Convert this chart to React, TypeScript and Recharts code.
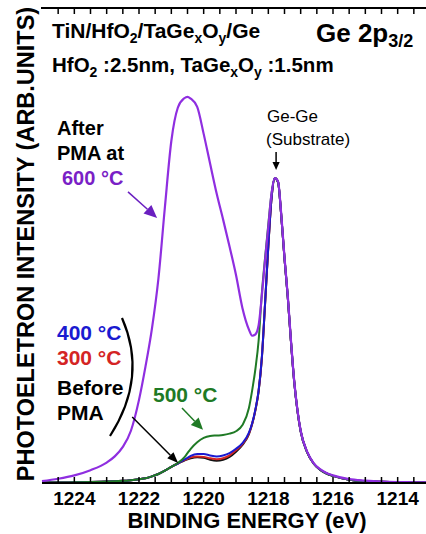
import React from "react";
import { LineChart, Line, XAxis, YAxis, ReferenceLine } from "recharts";

const FONT = '"Liberation Sans", Arial, Helvetica, sans-serif';

// binding energy grid (eV)
const energies = [
  1225.0, 1224.5, 1224.0, 1223.5, 1223.0, 1222.75, 1222.5, 1222.25, 1222.0, 1221.8,
  1221.6, 1221.4, 1221.2, 1221.0, 1220.8, 1220.6, 1220.5, 1220.4, 1220.2, 1220.0,
  1219.8, 1219.6, 1219.4, 1219.2, 1219.0, 1218.8, 1218.6, 1218.5, 1218.4, 1218.3,
  1218.2, 1218.1, 1218.0, 1217.9, 1217.8, 1217.7, 1217.6, 1217.5, 1217.4, 1217.3,
  1217.2, 1217.1, 1217.0, 1216.8, 1216.6, 1216.4, 1216.2, 1216.0, 1215.5, 1215.0,
  1214.5, 1214.0, 1213.5, 1213.0,
];

const beforePMA = [
  0.1, 0.1, 0.15, 0.2, 0.3, 0.35, 0.45, 0.6, 0.8, 1.0,
  1.4, 1.9, 2.6, 3.4, 4.1, 4.7, 5.0, 5.2, 5.4, 5.3,
  4.9, 4.7, 4.9, 5.5, 6.6, 8.0, 10.3, 12.4, 15.3, 19.3,
  26.3, 37.8, 49.8, 60.0, 64.1, 63.3, 56.2, 47.2, 39.2, 29.7,
  21.3, 15.2, 10.9, 6.5, 4.1, 2.8, 2.0, 1.5, 0.7, 0.4,
  0.25, 0.15, 0.1, 0.1,
];

const anneal300 = [
  0.1, 0.1, 0.15, 0.2, 0.3, 0.35, 0.45, 0.6, 0.8, 1.0,
  1.4, 1.9, 2.6, 3.4, 4.1, 4.8, 5.1, 5.4, 5.6, 5.5,
  5.2, 5.0, 5.2, 5.8, 6.9, 8.2, 10.4, 12.5, 15.4, 19.4,
  26.4, 37.9, 49.9, 60.0, 64.2, 63.4, 56.3, 47.3, 39.3, 29.8,
  21.4, 15.3, 10.9, 6.5, 4.1, 2.8, 2.0, 1.5, 0.7, 0.4,
  0.25, 0.15, 0.1, 0.1,
];

const anneal400 = [
  0.1, 0.1, 0.15, 0.2, 0.3, 0.35, 0.45, 0.6, 0.8, 1.0,
  1.4, 1.9, 2.6, 3.4, 4.1, 4.9, 5.3, 5.7, 6.1, 6.1,
  5.8, 5.6, 5.8, 6.3, 7.2, 8.4, 10.6, 12.6, 15.5, 19.5,
  26.5, 38.0, 50.0, 60.0, 64.2, 63.4, 56.3, 47.3, 39.3, 29.8,
  21.4, 15.3, 10.9, 6.5, 4.1, 2.8, 2.0, 1.5, 0.7, 0.4,
  0.25, 0.15, 0.1, 0.1,
];

const anneal500 = [
  0.1, 0.1, 0.15, 0.2, 0.3, 0.35, 0.45, 0.6, 0.8, 1.0,
  1.4, 1.9, 2.6, 3.4, 4.2, 5.4, 6.3, 7.2, 8.6, 9.5,
  9.9, 10.0, 10.1, 10.4, 10.9, 12.2, 15.8, 19.5, 24.0, 30.0,
  40.0, 47.5, 54.5, 61.0, 64.2, 63.4, 56.3, 47.3, 39.3, 29.8,
  21.4, 15.3, 10.9, 6.5, 4.1, 2.8, 2.0, 1.5, 0.7, 0.4,
  0.25, 0.15, 0.1, 0.1,
];

const anneal600 = [
  0.4, 0.9, 1.6, 2.7, 4.3, 5.6, 7.6, 11.0, 17.5, 24.5,
  32.5, 43.0, 58.0, 72.0, 79.0, 81.0, 81.3, 80.9, 79.2, 73.5,
  67.2, 61.0, 55.5, 49.8, 43.8, 36.8, 32.3, 31.0, 31.3, 33.2,
  39.5, 47.0, 54.0, 61.0, 64.2, 63.5, 56.5, 47.5, 39.5, 30.0,
  21.5, 15.4, 11.0, 6.6, 4.2, 2.9, 2.1, 1.6, 0.8, 0.5,
  0.3, 0.2, 0.15, 0.1,
];

const labelTicks = [1224, 1222, 1220, 1218, 1216, 1214];
const allTicks = [
  1224.5, 1224, 1223.5, 1223, 1222.5, 1222, 1221.5, 1221, 1220.5, 1220, 1219.5, 1219,
  1218.5, 1218, 1217.5, 1217, 1216.5, 1216, 1215.5, 1215, 1214.5, 1214, 1213.5,
];

const rows = energies.map((be, i) => ({
  be,
  before: beforePMA[i],
  t300: anneal300[i],
  t400: anneal400[i],
  t500: anneal500[i],
  t600: anneal600[i],
}));

const X_MIN = 1213;
const X_MAX = 1225;
const PLOT_LEFT = 42;
const PLOT_TOP = 8;
const PLOT_W = 388;

const PURPLE = "#8f2ee0";
const PURPLE_TEXT = "#7a1fc6";
const BLUE = "#1a1ad0";
const RED = "#d42424";
const GREEN = "#1f7a25";
const TICK_LEN = 6;
const LABEL_GAP = 9;

// bottom axis: inward tick mark at every half eV, label on even values
const BottomTick = (props: any) => {
  const { x, y, payload } = props;
  const axisY = y - LABEL_GAP;
  const show = labelTicks.includes(payload.value);
  return (
    <g>
      <line x1={x} x2={x} y1={axisY} y2={axisY - TICK_LEN} stroke="#000" strokeWidth={1.5} />
      {show && (
        <text x={x} y={y} dy="0.71em" textAnchor="middle" fontSize={19} fontWeight={700} fill="#000" fontFamily={FONT}>
          {payload.value}
        </text>
      )}
    </g>
  );
};

const arrow = (color: string, head: number, width: number) => (props: any) => {
  const { x1, y1, x2, y2 } = props;
  const a = Math.atan2(y2 - y1, x2 - x1);
  const bx = x2 - head * Math.cos(a);
  const by = y2 - head * Math.sin(a);
  const w = head * width;
  const p1 = `${bx + w * Math.sin(a)},${by - w * Math.cos(a)}`;
  const p2 = `${bx - w * Math.sin(a)},${by + w * Math.cos(a)}`;
  return (
    <g>
      <line x1={x1} y1={y1} x2={bx} y2={by} stroke={color} strokeWidth={1.5} />
      <polygon points={`${x2},${y2} ${p1} ${p2}`} fill={color} />
    </g>
  );
};

export default function App() {
  const t = { fontFamily: FONT, fontWeight: 700 };
  // x position of a top-frame tick (same linear, reversed scale as the chart)
  const topX = (v: number) => PLOT_LEFT + ((X_MAX - v) / (X_MAX - X_MIN)) * PLOT_W;
  return (
    <div
      style={{
        position: "absolute",
        left: 0,
        top: 0,
        width: 426,
        height: 534,
        overflow: "hidden",
        background: "#fff",
      }}
    >
      <LineChart
        width={PLOT_LEFT + PLOT_W}
        height={534}
        data={rows}
        margin={{ top: PLOT_TOP, right: 0, bottom: 0, left: PLOT_LEFT }}
      >
        <XAxis
          dataKey="be"
          type="number"
          domain={[X_MIN, X_MAX]}
          reversed
          ticks={allTicks}
          interval={0}
          height={51}
          tickLine={false}
          tickSize={0}
          tickMargin={LABEL_GAP}
          axisLine={{ stroke: "#000", strokeWidth: 2 }}
          tick={<BottomTick />}
        />
        <YAxis
          type="number"
          domain={[0, 100]}
          width={0}
          tick={false}
          axisLine={{ stroke: "#000", strokeWidth: 2 }}
        />
        <Line dataKey="before" type="monotone" stroke="#111" strokeWidth={2} dot={false} isAnimationActive={false} />
        <Line dataKey="t300" type="monotone" stroke={RED} strokeWidth={2} dot={false} isAnimationActive={false} />
        <Line dataKey="t400" type="monotone" stroke={BLUE} strokeWidth={2} dot={false} isAnimationActive={false} />
        <Line dataKey="t500" type="monotone" stroke={GREEN} strokeWidth={2} dot={false} isAnimationActive={false} />
        <Line dataKey="t600" type="monotone" stroke={PURPLE} strokeWidth={2.2} dot={false} isAnimationActive={false} />
        <ReferenceLine segment={[{ x: 1222.34, y: 61.3 }, { x: 1221.44, y: 55.8 }]} shape={arrow("#6a1fc0", 13, 0.45)} />
        <ReferenceLine segment={[{ x: 1220.67, y: 15.8 }, { x: 1220.02, y: 11.2 }]} shape={arrow(GREEN, 12, 0.45)} />
        <ReferenceLine segment={[{ x: 1222.21, y: 13.9 }, { x: 1220.79, y: 4.2 }]} shape={arrow("#000", 11, 0.4)} />
        <ReferenceLine segment={[{ x: 1217.76, y: 69.7 }, { x: 1217.76, y: 65.9 }]} shape={arrow("#000", 8, 0.45)} />
      </LineChart>
      <svg
        width={426}
        height={534}
        style={{ position: "absolute", left: 0, top: 0, pointerEvents: "none" }}
      >
        {/* top frame with inward ticks */}
        <line x1={PLOT_LEFT - 1} x2={426} y1={PLOT_TOP} y2={PLOT_TOP} stroke="#000" strokeWidth={2} />
        {allTicks.map((v) => (
          <line
            key={v}
            x1={topX(v)}
            x2={topX(v)}
            y1={PLOT_TOP}
            y2={PLOT_TOP + TICK_LEN}
            stroke="#000"
            strokeWidth={1.5}
          />
        ))}
        <text x={52} y={38} fontSize={21} fill="#000" {...t}>
          TiN/HfO<tspan fontSize={14} dy={5}>2</tspan>
          <tspan dy={-5}>/TaGe</tspan>
          <tspan fontSize={14} dy={5}>x</tspan>
          <tspan dy={-5}>O</tspan>
          <tspan fontSize={14} dy={5}>y</tspan>
          <tspan dy={-5}>/Ge</tspan>
        </text>
        <text x={316} y={42} fontSize={26} fill="#000" {...t}>
          Ge 2p<tspan fontSize={18} dy={5}>3/2</tspan>
        </text>
        <text x={52} y={72} fontSize={20.5} fill="#000" {...t}>
          HfO<tspan fontSize={14} dy={5}>2</tspan>
          <tspan dy={-5}> :2.5nm, TaGe</tspan>
          <tspan fontSize={14} dy={5}>x</tspan>
          <tspan dy={-5}>O</tspan>
          <tspan fontSize={14} dy={5}>y</tspan>
          <tspan dy={-5}> :1.5nm</tspan>
        </text>
        <text
          x={26}
          y={244}
          fontSize={23.5}
          fill="#000"
          textAnchor="middle"
          dominantBaseline="central"
          transform="rotate(-90 26 244)"
          {...t}
        >
          PHOTOELETRON INTENSITY (ARB.UNITS)
        </text>
        <text x={247} y={520} fontSize={22} fill="#000" textAnchor="middle" dominantBaseline="central" {...t}>
          BINDING ENERGY (eV)
        </text>
        <text x={57} y={135} fontSize={20} fill="#000" {...t}>After</text>
        <text x={57} y={160} fontSize={20} fill="#000" {...t}>PMA at</text>
        <text x={62} y={185} fontSize={20} fill={PURPLE_TEXT} {...t}>600 °C</text>
        <text x={57} y={340} fontSize={21} fill={BLUE} {...t}>400 °C</text>
        <text x={57} y={365} fontSize={21} fill={RED} {...t}>300 °C</text>
        <text x={57} y={395} fontSize={21} fill="#000" {...t}>Before</text>
        <text x={57} y={420} fontSize={21} fill="#000" {...t}>PMA</text>
        <text x={153} y={402} fontSize={21} fill={GREEN} {...t}>500 °C</text>
        <text x={267} y={122} fontSize={17} fill="#000" fontFamily={FONT}>Ge-Ge</text>
        <text x={266} y={145} fontSize={17} fill="#000" fontFamily={FONT}>(Substrate)</text>
        <path d="M 122 318 Q 148 377 110 436" fill="none" stroke="#000" strokeWidth={2.2} />
      </svg>
    </div>
  );
}
